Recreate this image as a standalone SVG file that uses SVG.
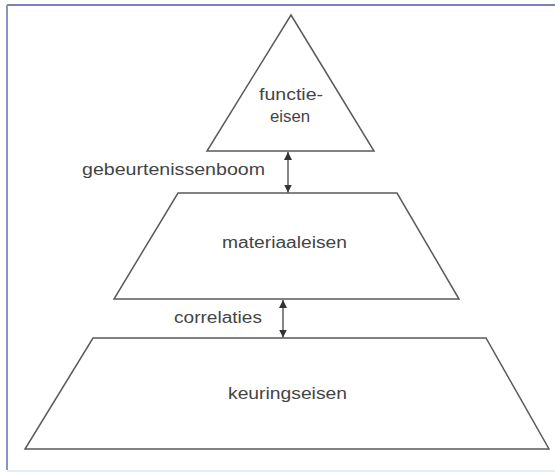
<svg xmlns="http://www.w3.org/2000/svg" width="555" height="475" viewBox="0 0 555 475">
<style>
.shape{fill:#fff;stroke:#5a5a5a;stroke-width:1.5;stroke-linejoin:miter}
.lbl{font-family:"Liberation Sans",Arial,sans-serif;font-size:16px;fill:#444}
.conn{stroke:#444;stroke-width:1.3;fill:none}
</style>
<defs>
<marker id="ah" viewBox="0 0 10 10" refX="10" refY="5" markerWidth="8" markerHeight="8" markerUnits="userSpaceOnUse" orient="auto-start-reverse">
<path d="M0,0 L10,5 L0,10 z" fill="#333"/>
</marker>
</defs>
<rect x="0" y="0" width="555" height="475" fill="#fff"/>
<g id="frame">
<line x1="7" y1="5" x2="555" y2="5" stroke="#7b82b8" stroke-width="2"/>
<line x1="7" y1="5" x2="7" y2="470" stroke="#8d93c6" stroke-width="2"/>
<line x1="7" y1="471" x2="555" y2="471" stroke="#e4ecf6" stroke-width="2"/>
</g>
<g id="functie-eisen">
<polygon class="shape" points="291,15 374,151 207,151"/>
<text class="lbl" x="291" y="100" text-anchor="middle" textLength="64" lengthAdjust="spacingAndGlyphs">functie-</text>
<text class="lbl" x="290" y="122" text-anchor="middle" textLength="40" lengthAdjust="spacingAndGlyphs">eisen</text>
</g>
<g id="materiaaleisen">
<polygon class="shape" points="178,193 397,193 459,299 114,299"/>
<text class="lbl" x="284.5" y="248" text-anchor="middle" textLength="125" lengthAdjust="spacingAndGlyphs">materiaaleisen</text>
</g>
<g id="keuringseisen">
<polygon class="shape" points="93,338 486,338 549,449 25,449"/>
<text class="lbl" x="287.5" y="399" text-anchor="middle" textLength="119" lengthAdjust="spacingAndGlyphs">keuringseisen</text>
</g>
<g id="connectors">
<line class="conn" x1="288" y1="152" x2="288" y2="192.5" marker-start="url(#ah)" marker-end="url(#ah)"/>
<text class="lbl" x="82" y="175" textLength="183" lengthAdjust="spacingAndGlyphs">gebeurtenissenboom</text>
<line class="conn" x1="283" y1="300" x2="283" y2="337.5" marker-start="url(#ah)" marker-end="url(#ah)"/>
<text class="lbl" x="174" y="323" textLength="88" lengthAdjust="spacingAndGlyphs">correlaties</text>
</g>
</svg>
